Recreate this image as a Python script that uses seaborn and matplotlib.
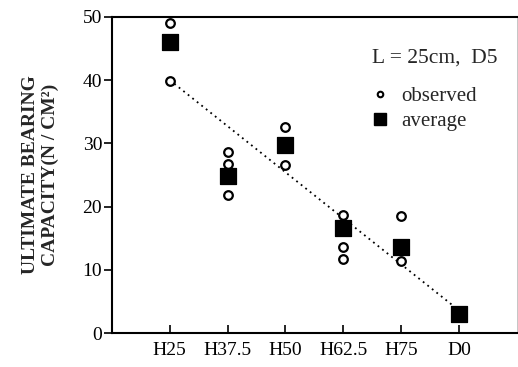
import matplotlib
matplotlib.use("Agg")
import matplotlib.pyplot as plt
import seaborn as sns
import pandas as pd
from matplotlib.lines import Line2D

# ---- data ----
categories = ["H25", "H37.5", "H50", "H62.5", "H75", "D0"]
obs_cat = ["H25", "H25", "H37.5", "H37.5", "H37.5", "H50", "H50",
           "H62.5", "H62.5", "H62.5", "H75", "H75"]
obs_val = [49.0, 39.9, 28.7, 26.7, 21.8, 32.6, 26.6,
           18.7, 13.7, 11.7, 18.5, 11.4]
avg_val = [46.1, 24.8, 29.7, 16.6, 13.6, 3.0]
trend_cat = ["H25", "D0"]
trend_val = [40.0, 3.6]
y_ticks = [0, 10, 20, 30, 40, 50]

sns.set_theme(style="ticks")
plt.rcParams["font.family"] = ["Liberation Serif", "DejaVu Serif"]

obs_df = pd.DataFrame({"cat": obs_cat, "val": obs_val})
avg_df = pd.DataFrame({"cat": categories, "val": avg_val})
pos = {c: i for i, c in enumerate(categories)}
trend_df = pd.DataFrame({"x": [pos[c] for c in trend_cat], "val": trend_val})

fig = plt.figure(figsize=(5.18, 3.67), dpi=100)
ax = fig.add_axes([0.216, 0.092, 0.782, 0.862])

sns.lineplot(data=trend_df, x="x", y="val", ax=ax, color="black",
             linewidth=1.3, linestyle=(0, (1, 2.2)), zorder=1)
sns.stripplot(data=obs_df, x="cat", y="val", order=categories, jitter=False,
              ax=ax, color="white", edgecolor="black", linewidth=1.6,
              size=6.2, zorder=3)
sns.scatterplot(data=avg_df.assign(x=range(len(categories))), x="x", y="val",
                ax=ax, marker="s", color="black", s=125, edgecolor="black",
                zorder=2)

ax.set_xlim(-1, 6)
ax.set_ylim(0, 50)
ax.set_xticks(range(len(categories)))
ax.set_xticklabels(categories)
ax.set_yticks(y_ticks)
ax.set_xlabel("")
ax.set_ylabel("ULTIMATE BEARING\nCAPACITY(N / CM²)", fontsize=14,
              fontweight="bold", labelpad=17, linespacing=1.2)

for s in ["left", "bottom", "top"]:
    ax.spines[s].set_linewidth(1.5)
    ax.spines[s].set_color("black")
ax.spines["right"].set_linewidth(0.6)
ax.spines["right"].set_color("#bbbbbb")

ax.tick_params(axis="y", direction="out", length=6, width=1.2,
               labelsize=14, pad=1, colors="black")
ax.tick_params(axis="x", direction="in", length=6, width=1.2,
               labelsize=14, pad=6, colors="black")

ax.text(0.642, 0.87, "L = 25cm,  D5", transform=ax.transAxes,
        fontsize=15.5, ha="left", va="center")

handles = [
    Line2D([], [], marker="o", linestyle="none", markersize=4,
           markerfacecolor="white", markeredgecolor="black",
           markeredgewidth=1.5),
    Line2D([], [], marker="s", linestyle="none", markersize=8,
           color="black"),
]
leg = ax.legend(handles, ["observed", "average"],
                loc="upper left", bbox_to_anchor=(0.60, 0.825), frameon=False,
                fontsize=15, handletextpad=0.5,
                labelspacing=0.25, handlelength=1.0, borderpad=0.2)

fig.savefig("out.png", dpi=100)
